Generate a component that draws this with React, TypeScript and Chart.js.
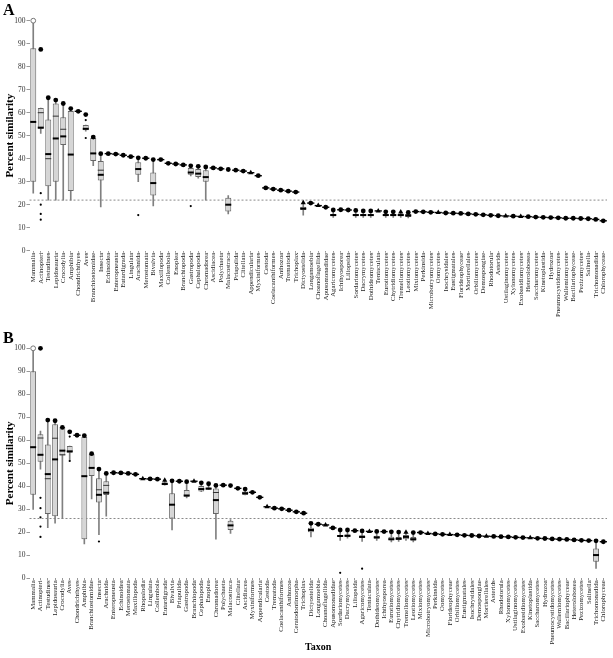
import React, { useEffect, useRef } from 'react';
import { Chart, registerables } from 'chart.js';
Chart.register(...registerables);

const SERIF = "'Liberation Serif', 'Times New Roman', Times, serif";

// ---------------- Panel A ----------------
const taxaA = ['Mammalia','Actinopteri','Testudines','Lepidosauria','Crocodylia','Amphibia','Chondrichthyes','Aves','Branchiostomidae','Insecta','Echinoidea','Enteropneusta','Eutardigrada','Lingulata','Arachnida','Merostomata','Bivalvia','Maxillopoda','Collembola','Enoplea','Branchiopoda','Gastropoda','Cephalopoda','Chromadorea','Ascidiacea','Polychaeta','Malacostraca','Priapulida','Clitellata','Appendicularia','Myxiniformes','Cestoda','Coelacanthiformes','Anthozoa','Trematoda','Trichoplax','Dictyostelida','Longamoebia','Choanoflagellida','Apusomonadidae','Agaricomycetes','Ichthyosporea','Liliopsida','Sordariomycetes','Dacrymycetes','Dothideomycetes','Tentaculata','Eurotiomycetes','Chytridiomycetes','Tremellomycetes','Leotiomycetes','Mixiomycetes','Perkinsida','Microbotryomycetes','Oomycetes','Isochrysidales','Eustigmatales','Florideophyceae','Mortierellales','Orbiliomycetes','Demospongiae','Rhodotorula','Asterids','Ustilaginomycetes','Xylonomycetes','Exobasidiomycetes','Heterolobosea','Saccharomycetes','Kinetoplastida','Hydrozoa','Pneumocystidomycetes','Wallemiomycetes','Bacillariophyceae','Pezizomycetes','Salinella','Trichomonadida','Chlorophyceae'];
const pointA = [null, 87.5, 66.5, 65.5, 64, 61.8, 60.6, 59.2, 49.4, 42.2, 42.2, 42, 41.5, 40.9, 40.4, 40.2, 39.6, 39.6, 38, 37.7, 37.3, 36.9, 36.7, 36.4, 36, 35.6, 35.3, 35, 34.6, 33.9, 32.6, 27.3, 26.8, 26.3, 25.9, 25.5, 20.9, 20.7, 19.6, 18.9, 17.7, 17.8, 17.7, 17.5, 17.3, 17.3, 17.3, 16.9, 16.9, 16.8, 16.6, 17.0, 16.9, 16.7, 16.6, 16.4, 16.3, 16.2, 16.0, 15.8, 15.6, 15.4, 15.2, 15.1, 15.0, 14.9, 14.8, 14.6, 14.5, 14.4, 14.3, 14.1, 14.1, 14.0, 13.9, 13.6, 13.0];
const triA = ['Appendicularia','Dictyostelida','Choanoflagellida','Tentaculata','Tremellomycetes','Oomycetes','Ustilaginomycetes','Exobasidiomycetes'];
const boxTaxaA = ['Mammalia','Actinopteri','Testudines','Lepidosauria','Crocodylia','Amphibia','Aves','Branchiostomidae','Insecta','Arachnida','Bivalvia','Gastropoda','Cephalopoda','Chromadorea','Malacostraca','Dictyostelida','Agaricomycetes','Sordariomycetes','Dacrymycetes','Dothideomycetes','Eurotiomycetes','Chytridiomycetes','Tremellomycetes','Leotiomycetes'];
const loA  = [25, 51, 22, 22, 22, 22, 52, 37, 19, 30, 19.5, 32.5, 31.5, 22, 16, 15.5, 14.5, 14.5, 14.5, 14.5, 14.5, 14.5, 14.5, 14.2];
const q1A  = [30, 53, 28, 30, 46, 26, 52.4, 39, 30.5, 33, 24, 33, 32, 30, 17, 17.7, 15, 15, 15, 15, 15, 15, 15, 14.7];
const medA = [56, 53.5, 42, 48.8, 49.7, 41.8, 53, 42.3, 33, 35.5, 29.4, 34, 33.5, 32, 20, 18.3, 15.5, 15.5, 15.5, 15.5, 15.5, 15.5, 15.5, 15.3];
const q3A  = [88, 62, 57, 64, 58, 60.7, 54.6, 49, 39, 38.5, 34, 36, 35.5, 35, 23, 19.1, 16, 16, 16, 16, 16, 16, 16, 16];
const hiA  = [100, 62, 66.5, 65.5, 64, 61.8, 54.6, 49.4, 42.2, 40.4, 39.6, 36.9, 36.7, 36.4, 24, 20.9, 17.7, 17.5, 17.3, 17.3, 16.9, 16.9, 16.8, 16.6];
const meanA = [null, 60, 40, 58.5, 52.8, null, null, null, 35, null, null, null, null, null, null, null, null, null, null, null, null, null, null, null];
const outTaxaA = ['Actinopteri','Actinopteri','Actinopteri','Actinopteri','Aves','Aves','Arachnida','Gastropoda'];
const outValA  = [25, 20, 16, 13.5, 56.8, 49, 15.5, 19.4];
const openTaxaA = ['Mammalia'];
const openValA = [100];
const cutA = 22;

// ---------------- Panel B ----------------
const taxaB = ['Mammalia','Actinopteri','Testudines','Lepidosauria','Crocodylia','Aves','Chondrichthyes','Amphibia','Branchiostomidae','Insecta','Arachnida','Enteropneusta','Echinoidea','Merostomata','Maxillopoda','Rhopalodia','Lingulata','Collembola','Eutardigrada','Bivalvia','Priapulida','Gastropoda','Branchiopoda','Cephalopoda','Enoplea','Chromadorea','Polychaeta','Malacostraca','Clitellata','Ascidiacea','Myxiniformes','Appendicularia','Cestoda','Trematoda','Coelacanthiformes','Anthozoa','Ceratodontimorpha','Trichoplax','Dictyostelida','Longamoebia','Choanoflagellida','Apusomonadidae','Sordariomycetes','Dacrymycetes','Liliopsida','Agaricomycetes','Tentaculata','Dothideomycetes','Ichthyosporea','Eurotiomycetes','Chytridiomycetes','Tremellomycetes','Leotiomycetes','Mixiomycetes','Microbotryomycetes','Perkinsida','Oomycetes','Florideophyceae','Orbiliomycetes','Eustigmatales','Isochrysidales','Demospongiae','Mortierellales','Asterids','Rhodotorula','Xylonomycetes','Ustilaginomycetes','Exobasidiomycetes','Kinetoplastida','Saccharomycetes','Hydrozoa','Pneumocystidomycetes','Wallemiomycetes','Bacillariophyceae','Heterolobosea','Pezizomycetes','Salinella','Trichomonadida','Chlorophyceae'];
const pointB = [null, 100, 68.8, 68.5, 65.6, 63.7, 62.2, 62, 54.2, 47.5, 45.6, 45.9, 45.8, 45.6, 45.2, 43.3, 43.2, 43.1, 42.6, 42.4, 42.2, 42, 42.2, 41.5, 41.1, 40.4, 40.5, 40.3, 39.1, 38.8, 37.4, 35.2, 31.1, 30.5, 30.2, 29.6, 28.9, 28.3, 23.9, 23.5, 23.2, 21.9, 21, 21, 20.7, 20.6, 20.4, 20.4, 20.3, 20.2, 20.1, 20.0, 19.9, 19.9, 19.5, 19.3, 19.1, 19.0, 18.9, 18.7, 18.6, 18.4, 18.3, 18.2, 18.1, 18.0, 17.8, 17.7, 17.6, 17.4, 17.3, 17.1, 17.0, 16.9, 16.7, 16.5, 16.4, 16.3, 15.9];
const triB = ['Rhopalodia','Eutardigrada','Branchiopoda','Cestoda','Choanoflagellida','Tentaculata','Tremellomycetes','Microbotryomycetes','Florideophyceae','Mortierellales','Kinetoplastida'];
const boxTaxaB = ['Mammalia','Actinopteri','Testudines','Lepidosauria','Crocodylia','Aves','Amphibia','Branchiostomidae','Insecta','Arachnida','Eutardigrada','Bivalvia','Gastropoda','Cephalopoda','Enoplea','Chromadorea','Malacostraca','Ascidiacea','Dictyostelida','Sordariomycetes','Dacrymycetes','Agaricomycetes','Dothideomycetes','Eurotiomycetes','Chytridiomycetes','Tremellomycetes','Leotiomycetes','Trichomonadida'];
const loB  = [30, 47.5, 22, 24, 26, 51, 15, 34.5, 19, 27, 40.5, 21, 35, 37.7, 38.5, 17, 19.5, 36.2, 18, 16.5, 17.5, 16, 16.5, 15.8, 16, 16.5, 15.8, 4.3];
const q1B  = [36.3, 50.7, 28, 27, 53.4, 54.6, 17, 44.5, 33, 36.2, 40.5, 26, 35.5, 37.7, 38.5, 28, 21, 36.2, 20, 18, 18, 17.5, 17.2, 16.4, 16.6, 17, 16.3, 7.2];
const medB = [57, 53.7, 45.3, 51.7, 55.5, 55.2, 44.4, 48, 36.3, 37.2, 41, 32, 36, 38.8, 39, 34, 23, 37, 21, 18.4, 18.5, 18, 17.8, 17, 17.2, 18, 17, 10.1];
const q3B  = [90, 62.6, 58.2, 67, 65.8, 57.5, 61.5, 54, 43.5, 42.2, 41.8, 37, 38.4, 40.1, 39.5, 39, 25, 37.7, 22, 18.8, 19, 18.7, 18.5, 18.1, 18, 18.8, 18, 13];
const hiB  = [100, 64, 68.8, 68.5, 65.8, 57.5, 62, 54.2, 47.5, 45.6, 42.6, 42.4, 42, 41.5, 41.1, 40.4, 25.5, 38.8, 23.9, 21, 21, 20.6, 20.4, 20.2, 20.1, 20, 19.9, 16.3];
const meanB = [null, 61, 43.3, 60.9, 53.7, null, null, null, 38.5, 40.4, null, null, null, null, null, 37.3, null, null, null, null, null, null, null, null, null, null, null, null];
const outTaxaB = ['Actinopteri','Actinopteri','Actinopteri','Actinopteri','Actinopteri','Aves','Aves','Insecta','Sordariomycetes','Agaricomycetes'];
const outValB  = [35, 30.5, 26.5, 22.5, 18, 61.6, 51, 16, 2.4, 4.2];
const openTaxaB = ['Mammalia'];
const openValB = [100];
const cutB = 26;

const yTicks = [0, 10, 20, 30, 40, 50, 60, 70, 80, 90, 100];

const cutLinePlugin = {
  id: 'cutLine',
  beforeDatasetsDraw(chart: any, _a: any, o: any) {
    const { ctx, chartArea, scales } = chart;
    const y = scales.y.getPixelForValue(o.value);
    ctx.save();
    ctx.strokeStyle = '#8a8a8a';
    ctx.lineWidth = 1;
    ctx.setLineDash([2, 2]);
    ctx.beginPath();
    ctx.moveTo(chartArea.left, y);
    ctx.lineTo(chartArea.right, y);
    ctx.stroke();
    ctx.restore();
  },
};

function buildConfig(p: any) {
  const bi = (t: string) => p.boxTaxa.indexOf(t);
  const whisk = p.taxa.map((t: string) => (bi(t) < 0 ? null : [p.lo[bi(t)], p.hi[bi(t)]]));
  const boxes = p.taxa.map((t: string) => (bi(t) < 0 ? null : [p.q1[bi(t)], p.q3[bi(t)]]));
  const meds = p.taxa.map((t: string) => (bi(t) < 0 ? null : p.med[bi(t)]));
  const means = p.taxa.map((t: string) => (bi(t) < 0 ? null : p.mean[bi(t)]));
  const flats = p.taxa.map((t: string, k: number) => (bi(t) < 0 ? p.point[k] : null));
  const styles = p.taxa.map((t: string) => (p.tri.includes(t) ? 'triangle' : 'circle'));
  const radii = p.taxa.map((t: string) => (p.tri.includes(t) ? 3 : 2.4));
  const outs = p.outTaxa.map((t: string, i: number) => ({ x: t, y: p.outVal[i] }));
  const opens = p.openTaxa.map((t: string, i: number) => ({ x: t, y: p.openVal[i] }));
  const pts = { type: 'line', showLine: false, clip: false };
  return {
    type: 'bar',
    data: {
      labels: p.taxa,
      datasets: [
        { ...{}, type: 'bar', data: whisk, grouped: false, barThickness: 1, backgroundColor: '#808080', borderWidth: 0, order: 5 },
        { type: 'bar', data: boxes, grouped: false, barPercentage: 0.8, categoryPercentage: 1, backgroundColor: '#d6d6d6', borderColor: '#666666', borderWidth: 1, borderSkipped: false, order: 4 },
        { ...pts, data: means, pointStyle: 'line', pointRadius: 3, borderColor: '#333', borderWidth: 1, order: 3 },
        { ...pts, data: meds, pointStyle: 'line', pointRadius: 3, borderColor: '#000', borderWidth: 2, order: 2 },
        { ...pts, data: flats, pointStyle: 'line', pointRadius: 3.6, borderColor: '#000', borderWidth: 1.4, order: 2 },
        { ...pts, data: outs, pointStyle: 'circle', pointRadius: 1.1, backgroundColor: '#000', borderWidth: 0, order: 1 },
        { ...pts, data: p.point, pointStyle: styles, pointRadius: radii, backgroundColor: '#000', borderColor: '#000', borderWidth: 0, order: 0 },
        { ...pts, data: opens, pointStyle: 'circle', pointRadius: 2.4, backgroundColor: '#fff', borderColor: '#777', borderWidth: 1, order: 0 },
      ],
    },
    options: {
      responsive: false,
      animation: false,
      events: [],
      layout: { padding: { top: p.padTop, right: 4, left: 0, bottom: 0 } },
      plugins: { legend: { display: false }, tooltip: { enabled: false }, cutLine: { value: p.cut } },
      scales: {
        x: {
          type: 'category',
          offset: true,
          border: { display: false },
          grid: { display: true, drawOnChartArea: false, drawTicks: true, tickLength: 2, color: '#999', offset: false },
          ticks: { autoSkip: false, maxRotation: 90, minRotation: 90, padding: 0, color: '#222', font: { size: 6.8, family: SERIF } },
          title: p.xTitle
            ? { display: true, text: p.xTitle, color: '#000', font: { size: 10, weight: 'bold', family: SERIF }, padding: { top: 0, bottom: 5 } }
            : { display: false },
          afterFit: (s: any) => { s.height = p.xHeight; },
        },
        y: {
          min: 0,
          max: 100,
          border: { display: false },
          grid: { display: true, drawOnChartArea: false, drawTicks: true, tickLength: 3, color: '#999' },
          afterBuildTicks: (s: any) => { s.ticks = yTicks.map((v) => ({ value: v })); },
          ticks: { padding: 1, color: '#333', font: { size: 7.5, family: SERIF } },
          title: { display: true, text: 'Percent similarity', color: '#000', font: { size: 11, weight: 'bold', family: SERIF }, padding: { top: 4, bottom: 0 } },
          afterFit: (s: any) => { s.width = 29.5; },
        },
      },
    },
    plugins: [cutLinePlugin],
  } as any;
}

export default function App() {
  const refA = useRef<HTMLCanvasElement>(null);
  const refB = useRef<HTMLCanvasElement>(null);
  useEffect(() => {
    document.body.style.margin = '0';
    const a = new Chart(refA.current as HTMLCanvasElement, buildConfig({
      taxa: taxaA, point: pointA, tri: triA, boxTaxa: boxTaxaA, lo: loA, q1: q1A, med: medA, q3: q3A, hi: hiA, mean: meanA,
      outTaxa: outTaxaA, outVal: outValA, openTaxa: openTaxaA, openVal: openValA, cut: cutA,
      padTop: 20.7, xHeight: 75.3, xTitle: null,
    }));
    const b = new Chart(refB.current as HTMLCanvasElement, buildConfig({
      taxa: taxaB, point: pointB, tri: triB, boxTaxa: boxTaxaB, lo: loB, q1: q1B, med: medB, q3: q3B, hi: hiB, mean: meanB,
      outTaxa: outTaxaB, outVal: outValB, openTaxa: openTaxaB, openVal: openValB, cut: cutB,
      padTop: 22.3, xHeight: 79.7, xTitle: 'Taxon',
    }));
    return () => { a.destroy(); b.destroy(); };
  }, []);
  const letter: React.CSSProperties = { position: 'absolute', left: 3, font: `bold 16px ${SERIF}`, lineHeight: '16px', color: '#000' };
  return (
    <div style={{ position: 'relative', width: 613, height: 658, background: '#fff', overflow: 'hidden' }}>
      <canvas ref={refA} width={613} height={326} style={{ position: 'absolute', left: 0, top: 0, display: 'block' }} />
      <canvas ref={refB} width={613} height={332} style={{ position: 'absolute', left: 0, top: 326, display: 'block' }} />
      <div style={{ ...letter, top: 2 }}>A</div>
      <div style={{ ...letter, top: 330 }}>B</div>
    </div>
  );
}
